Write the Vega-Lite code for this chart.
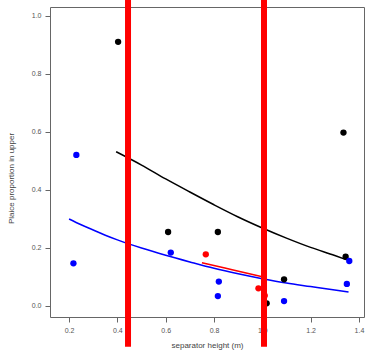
{
  "$schema": "https://vega.github.io/schema/vega-lite/v6.json",
  "width": 314,
  "height": 310,
  "autosize": {"type": "none"},
  "padding": {"left": 50, "top": 7, "right": 5, "bottom": 43},
  "background": "white",
  "config": {
    "view": {"stroke": "#666666", "strokeWidth": 1},
    "axis": {"grid": false, "domain": false, "tickColor": "#666666", "tickSize": 5, "labelColor": "#555555", "labelFontSize": 7, "labelFont": "Liberation Sans", "titleFont": "Liberation Sans", "titleFontWeight": "normal", "titleColor": "#444444", "titleFontSize": 8}
  },
  "datasets": {
    "pts": [
      {"x": 0.403, "y": 0.91, "g": "black"},
      {"x": 0.61, "y": 0.254, "g": "black"},
      {"x": 0.816, "y": 0.254, "g": "black"},
      {"x": 1.336, "y": 0.597, "g": "black"},
      {"x": 1.345, "y": 0.169, "g": "black"},
      {"x": 1.09, "y": 0.091, "g": "black"},
      {"x": 1.018, "y": 0.008, "g": "black"},
      {"x": 0.23, "y": 0.52, "g": "blue"},
      {"x": 0.218, "y": 0.146, "g": "blue"},
      {"x": 0.621, "y": 0.183, "g": "blue"},
      {"x": 0.82, "y": 0.083, "g": "blue"},
      {"x": 0.816, "y": 0.033, "g": "blue"},
      {"x": 1.09, "y": 0.016, "g": "blue"},
      {"x": 1.36, "y": 0.154, "g": "blue"},
      {"x": 1.35, "y": 0.075, "g": "blue"},
      {"x": 0.766, "y": 0.177, "g": "red"},
      {"x": 0.984, "y": 0.06, "g": "red"},
      {"x": 1.01, "y": 0.035, "g": "red"}
    ],
    "fits": [
      {"x": 0.395, "y": 0.531, "g": "black"},
      {"x": 0.5, "y": 0.485, "g": "black"},
      {"x": 0.6, "y": 0.437, "g": "black"},
      {"x": 0.7, "y": 0.392, "g": "black"},
      {"x": 0.8, "y": 0.348, "g": "black"},
      {"x": 0.9, "y": 0.306, "g": "black"},
      {"x": 1.0, "y": 0.268, "g": "black"},
      {"x": 1.1, "y": 0.233, "g": "black"},
      {"x": 1.2, "y": 0.201, "g": "black"},
      {"x": 1.3, "y": 0.173, "g": "black"},
      {"x": 1.35, "y": 0.158, "g": "black"},
      {"x": 0.2, "y": 0.299, "g": "blue"},
      {"x": 0.25, "y": 0.279, "g": "blue"},
      {"x": 0.3, "y": 0.261, "g": "blue"},
      {"x": 0.35, "y": 0.243, "g": "blue"},
      {"x": 0.4, "y": 0.227, "g": "blue"},
      {"x": 0.5, "y": 0.199, "g": "blue"},
      {"x": 0.6, "y": 0.174, "g": "blue"},
      {"x": 0.7, "y": 0.151, "g": "blue"},
      {"x": 0.8, "y": 0.129, "g": "blue"},
      {"x": 0.9, "y": 0.11, "g": "blue"},
      {"x": 1.0, "y": 0.093, "g": "blue"},
      {"x": 1.1, "y": 0.078, "g": "blue"},
      {"x": 1.2, "y": 0.066, "g": "blue"},
      {"x": 1.3, "y": 0.054, "g": "blue"},
      {"x": 1.357, "y": 0.047, "g": "blue"},
      {"x": 0.75, "y": 0.148, "g": "red"},
      {"x": 0.875, "y": 0.124, "g": "red"},
      {"x": 1.0, "y": 0.1, "g": "red"}
    ],
    "marks": [
      {"x": 0.444, "top": 1.054, "bottom": -0.142},
      {"x": 1.007, "top": 1.054, "bottom": -0.142}
    ]
  },
  "layer": [
    {
      "data": {"name": "fits"},
      "mark": {"type": "line", "strokeWidth": 1.5, "interpolate": "monotone"},
      "encoding": {
        "x": {"field": "x", "type": "quantitative", "scale": {"domain": [0.121, 1.421], "nice": false, "zero": false}, "axis": {"values": [0.2, 0.4, 0.6, 0.8, 1.0, 1.2, 1.4], "format": ".1f", "title": "separator height (m)", "titlePadding": 8, "labelPadding": 4}},
        "y": {"field": "y", "type": "quantitative", "scale": {"domain": [-0.039, 1.03], "nice": false, "zero": false}, "axis": {"values": [0, 0.2, 0.4, 0.6, 0.8, 1.0], "format": ".1f", "title": "Plaice proportion in upper", "titleX": -35, "titleY": 171, "labelPadding": 4}},
        "color": {"field": "g", "type": "nominal", "scale": {"domain": ["black", "blue", "red"], "range": ["#000000", "#0000ff", "#ff0000"]}, "legend": null}
      }
    },
    {
      "data": {"name": "pts"},
      "mark": {"type": "circle", "size": 40, "opacity": 1},
      "encoding": {
        "x": {"field": "x", "type": "quantitative"},
        "y": {"field": "y", "type": "quantitative"},
        "color": {"field": "g", "type": "nominal"}
      }
    },
    {
      "data": {"name": "marks"},
      "mark": {"type": "rule", "color": "#ff0000", "strokeWidth": 6, "clip": false},
      "encoding": {
        "x": {"field": "x", "type": "quantitative"},
        "y": {"field": "top", "type": "quantitative"},
        "y2": {"field": "bottom"}
      }
    }
  ]
}
